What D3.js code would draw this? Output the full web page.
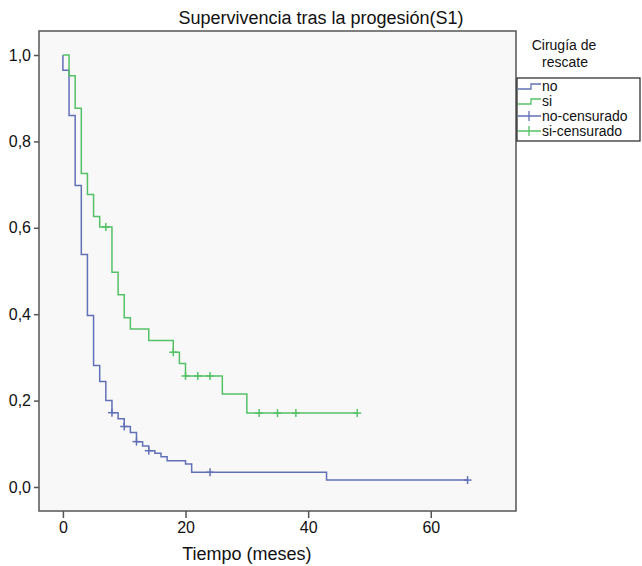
<!DOCTYPE html>
<html>
<head>
<meta charset="utf-8">
<script src="https://cdn.jsdelivr.net/npm/d3@7"></script>
<style>
  body { margin: 0; background: #fff; }
  svg text { font-family: "Liberation Sans", Arial, sans-serif; fill: #111; }
</style>
</head>
<body>
<svg id="chart" width="642" height="566"></svg>
<script>
// curva "no": tiempos de evento y supervivencia tras cada paso
var noTime = [0, 0, 1, 2, 3, 4, 5, 6, 7, 8, 9, 10, 11, 12, 13, 14, 15, 16, 17, 20, 21, 43, 66];
var noSurv = [1, 0.965, 0.860, 0.698, 0.538, 0.397, 0.281, 0.244, 0.200, 0.172, 0.158, 0.140, 0.126, 0.105, 0.095, 0.084, 0.078, 0.070, 0.061, 0.053, 0.034, 0.016, 0.016];
var noCensTime = [8, 10, 12, 14, 24, 66];
var noCensSurv = [0.172, 0.140, 0.105, 0.084, 0.034, 0.016];

// curva "si"
var siTime = [0, 1, 2, 3, 4, 5, 6, 8, 9, 10, 11, 14, 18, 19, 20, 26, 30, 48];
var siSurv = [1, 0.952, 0.877, 0.726, 0.677, 0.626, 0.602, 0.497, 0.445, 0.392, 0.366, 0.339, 0.312, 0.286, 0.257, 0.215, 0.171, 0.171];
var siCensTime = [7, 18, 20, 22, 24, 32, 35, 38, 48];
var siCensSurv = [0.602, 0.312, 0.257, 0.257, 0.257, 0.171, 0.171, 0.171, 0.171];

var xTicks = [0, 20, 40, 60];
var yTicks = [0, 0.2, 0.4, 0.6, 0.8, 1.0];
var legendLabels = ["no", "si", "no-censurado", "si-censurado"];

var blue = "#6270b6", green = "#55c167";

var margin = {top: 31, left: 39},
    width = 477, height = 480;

var svg = d3.select("#chart");

var x = d3.scaleLinear().domain([-3.9, 73.9]).range([0, width]);
var y = d3.scaleLinear().domain([-0.0556, 1.0556]).range([height, 0]);

var g = svg.append("g").attr("transform", "translate(" + margin.left + "," + margin.top + ")");

g.append("rect").attr("width", width).attr("height", height)
  .attr("fill", "#f8f8f8");

var line = d3.line().curve(d3.curveStepAfter)
  .x(function(d){ return x(d[0]); })
  .y(function(d){ return y(d[1]); });

function drawCurve(times, survs, ctimes, csurvs, color) {
  var pts = times.map(function(t, i){ return [t, survs[i]]; });
  g.append("path").attr("d", line(pts))
    .attr("fill", "none").attr("stroke", color).attr("stroke-width", 1.5);
  var cens = ctimes.map(function(t, i){ return [t, csurvs[i]]; });
  var c = g.selectAll(null).data(cens).enter().append("g")
    .attr("transform", function(d){ return "translate(" + x(d[0]) + "," + y(d[1]) + ")"; });
  c.append("line").attr("x1", 0).attr("x2", 0).attr("y1", -4).attr("y2", 4)
    .attr("stroke", color).attr("stroke-width", 1.5);
  c.append("line").attr("x1", -4).attr("x2", 4).attr("y1", 0).attr("y2", 0)
    .attr("stroke", color).attr("stroke-width", 1.5);
}

drawCurve(noTime, noSurv, noCensTime, noCensSurv, blue);
drawCurve(siTime, siSurv, siCensTime, siCensSurv, green);

// marco
g.append("rect").attr("width", width).attr("height", height)
  .attr("fill", "none").attr("stroke", "#555").attr("stroke-width", 1.5);

var fmt = function(d){ return d3.format(".1f")(d).replace(".", ","); };

var xAxis = g.append("g").attr("transform", "translate(0," + height + ")")
  .call(d3.axisBottom(x).tickValues(xTicks).tickSize(7).tickPadding(4));
var yAxis = g.append("g")
  .call(d3.axisLeft(y).tickValues(yTicks).tickFormat(fmt).tickSize(5).tickPadding(3));
[xAxis, yAxis].forEach(function(a){
  a.select(".domain").remove();
  a.selectAll(".tick line").attr("stroke", "#555").attr("stroke-width", 1.5);
  a.selectAll(".tick text").style("font-size", "16px").attr("fill", "#111");
});

svg.append("text").attr("x", 321).attr("y", 24).attr("text-anchor", "middle")
  .style("font-size", "18px").text("Supervivencia tras la progesión(S1)");

svg.append("text").attr("x", margin.left + x(30)).attr("y", 560).attr("text-anchor", "middle")
  .style("font-size", "18px").text("Tiempo (meses)");

// leyenda
svg.append("text").attr("x", 564).attr("y", 50).attr("text-anchor", "middle")
  .style("font-size", "14px").text("Cirugía de");
svg.append("text").attr("x", 565).attr("y", 67).attr("text-anchor", "middle")
  .style("font-size", "14px").text("rescate");

var lg = svg.append("g").attr("transform", "translate(517,78)");
lg.append("rect").attr("width", 123).attr("height", 63)
  .attr("fill", "#fff").attr("stroke", "#222").attr("stroke-width", 1.2);

var legendColors = [blue, green, blue, green];
legendLabels.forEach(function(lab, i) {
  var cy = 8 + i * 15;
  var row = lg.append("g").attr("transform", "translate(0," + cy + ")");
  if (i < 2) {
    row.append("path").attr("d", "M1,3H14V-2H24")
      .attr("fill", "none").attr("stroke", legendColors[i]).attr("stroke-width", 1.3);
  } else {
    row.append("path").attr("d", "M1,0H24M12,-5V5")
      .attr("fill", "none").attr("stroke", legendColors[i]).attr("stroke-width", 1.3);
  }
  row.append("text").attr("x", 25).attr("y", 5).style("font-size", "14px").text(lab);
});
</script>
</body>
</html>
